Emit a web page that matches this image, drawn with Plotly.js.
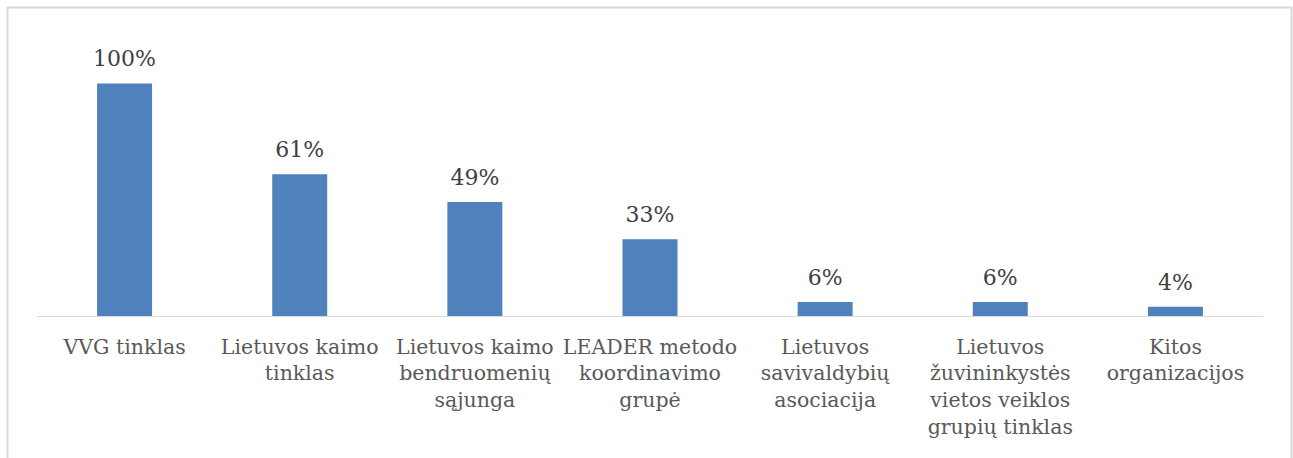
<!DOCTYPE html>
<html>
<head>
<meta charset="utf-8">
<script src="https://cdn.plot.ly/plotly-3.0.1.min.js"></script>
<style>
html,body{margin:0;padding:0;background:#fff;}
#chart{width:1293px;height:458px;}
</style>
</head>
<body>
<div id="chart"></div>
<script>
const categories = [
  "VVG tinklas",
  "Lietuvos kaimo<br>tinklas",
  "Lietuvos kaimo<br>bendruomenių<br>sąjunga",
  "LEADER metodo<br>koordinavimo<br>grupė",
  "Lietuvos<br>savivaldybių<br>asociacija",
  "Lietuvos<br>žuvininkystės<br>vietos veiklos<br>grupių tinklas",
  "Kitos<br>organizacijos"
];
const shares = [1.00, 0.61, 0.49, 0.33, 0.06, 0.06, 0.04];
const shareLabels = ["100%", "61%", "49%", "33%", "6%", "6%", "4%"];

const FONT = "'DejaVu Serif', serif";

const bars = {
  type: "bar",
  x: categories,
  y: shares,
  marker: {color: "#4f81bd", line: {width: 0}},
  hoverinfo: "skip"
};

const labels = {
  type: "scatter",
  mode: "markers+text",
  x: categories,
  y: shares,
  text: shareLabels,
  textposition: "top center",
  textfont: {family: FONT, size: 22, color: "#404040"},
  marker: {size: 17, opacity: 0, color: "#ffffff"},
  cliponaxis: false,
  hoverinfo: "skip"
};

const L = 37, R = 30, T = 37, B = 142;
const W = 1293, H = 458;
const pw = W - L - R, ph = H - T - B;
function px2x(p){ return (p - L) / pw; }
function py2y(p){ return (H - B - p) / ph; }

const layout = {
  width: W, height: H,
  margin: {l: L, r: R, t: T, b: B, pad: 0},
  paper_bgcolor: "#ffffff",
  plot_bgcolor: "#ffffff",
  showlegend: false,
  bargap: 0.686,
  xaxis: {
    type: "category",
    showgrid: false,
    zeroline: false,
    showline: true,
    linecolor: "#d9d9d9",
    linewidth: 1,
    ticks: "",
    tickangle: 0,
    tickfont: {family: FONT, size: 20.5, color: "#595959"},
    ticklabelstandoff: 12
  },
  yaxis: {
    range: [0, 1.2],
    visible: false,
    showgrid: false,
    zeroline: false,
    fixedrange: true
  },
  shapes: [{
    type: "path",
    xref: "paper", yref: "paper",
    path: "M " + px2x(7.5) + " " + py2y(470) + " L " + px2x(7.5) + " " + py2y(7.5) +
          " L " + px2x(1291.5) + " " + py2y(7.5) + " L " + px2x(1291.5) + " " + py2y(470),
    line: {color: "#d9d9d9", width: 2},
    layer: "below"
  }]
};

Plotly.newPlot("chart", [bars, labels], layout, {displayModeBar: false, staticPlot: true});
</script>
</body>
</html>
